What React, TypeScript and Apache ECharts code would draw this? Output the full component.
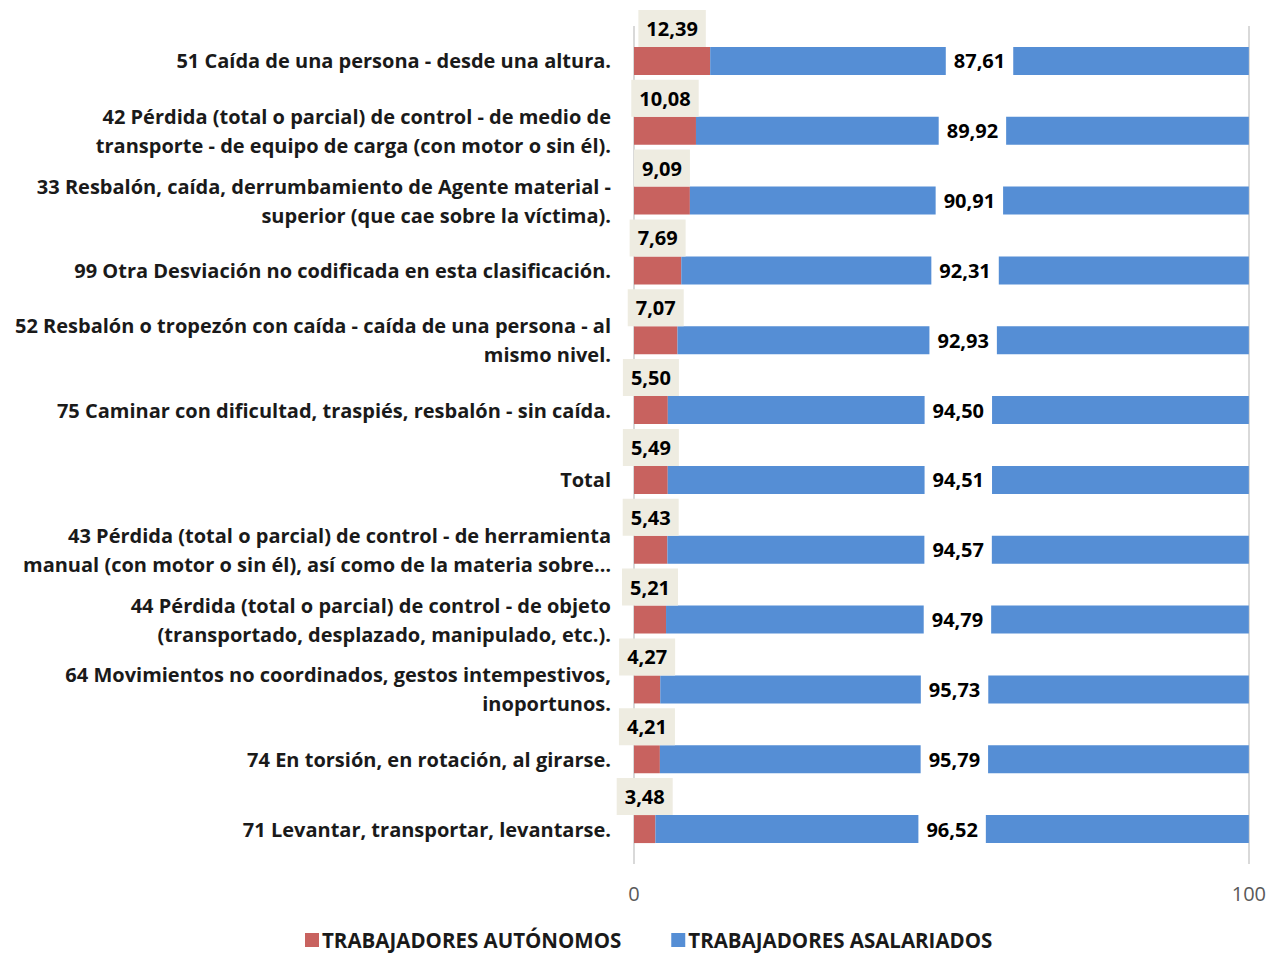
import React, { useEffect, useRef } from "react";
import * as echarts from "echarts";

const categories: string[] = [
  "51 Caída de una persona - desde una altura.",
  "42 Pérdida (total o parcial) de control - de medio de\ntransporte - de equipo de carga (con motor o sin él).",
  "33 Resbalón, caída, derrumbamiento de Agente material -\nsuperior (que cae sobre la víctima).",
  "99 Otra Desviación no codificada en esta clasificación.",
  "52 Resbalón o tropezón con caída - caída de una persona - al\nmismo nivel.",
  "75 Caminar con dificultad, traspiés, resbalón - sin caída.",
  "Total",
  "43 Pérdida (total o parcial) de control - de herramienta\nmanual (con motor o sin él), así como de la materia sobre…",
  "44 Pérdida (total o parcial) de control - de objeto\n(transportado, desplazado, manipulado, etc.).",
  "64 Movimientos no coordinados, gestos intempestivos,\ninoportunos.",
  "74 En torsión, en rotación, al girarse.",
  "71 Levantar, transportar, levantarse.",
];

const autonomos: number[] = [12.39, 10.08, 9.09, 7.69, 7.07, 5.5, 5.49, 5.43, 5.21, 4.27, 4.21, 3.48];
const asalariados: number[] = [87.61, 89.92, 90.91, 92.31, 92.93, 94.5, 94.51, 94.57, 94.79, 95.73, 95.79, 96.52];

const seriesNames = ["TRABAJADORES AUTÓNOMOS", "TRABAJADORES ASALARIADOS"];
const xTicks = [0, 100];

const FONT = "'Open Sans', sans-serif";
const fmt = (v: number) => v.toFixed(2).replace(".", ",");

export default function App() {
  const ref = useRef<HTMLDivElement>(null);
  useEffect(() => {
    document.body.style.margin = "0";
    if (!ref.current) return;
    const chart = echarts.init(ref.current, undefined, { renderer: "svg" });
    chart.setOption({
      animation: false,
      textStyle: { fontFamily: FONT },
      grid: { left: 634, right: 19, top: 26, bottom: 92, containLabel: false },
      legend: {
        top: 922,
        left: 300,
        itemWidth: 14,
        itemHeight: 14,
        itemGap: 50,
        icon: "rect",
        textStyle: { fontFamily: FONT, fontWeight: "bold", fontSize: 20.5, lineHeight: 26, color: "#1a1a1a", padding: [0, 0, 0, -2] },
        data: seriesNames,
      },
      xAxis: {
        type: "value",
        min: xTicks[0],
        max: xTicks[1],
        interval: 100,
        axisLine: { show: false },
        axisTick: { show: false },
        splitLine: { show: true, lineStyle: { color: "#d9d9d9", width: 2 } },
        axisLabel: { color: "#595959", fontSize: 20, fontFamily: FONT, margin: 19 },
      },
      yAxis: {
        type: "category",
        inverse: true,
        data: categories,
        axisLine: { show: false },
        axisTick: { show: false },
        axisLabel: {
          color: "#1a1a1a",
          fontSize: 20,
          fontWeight: "bold",
          fontFamily: FONT,
          margin: 23,
          lineHeight: 29,
          align: "right",
        },
      },
      series: [
        {
          name: seriesNames[0],
          type: "bar",
          stack: "total",
          barWidth: 28,
          itemStyle: { color: "#C8625F" },
          data: autonomos,
          label: {
            show: true,
            position: "top",
            distance: 0,
            formatter: (p: any) => fmt(p.value),
            color: "#000",
            fontSize: 20,
            fontWeight: "bold",
            fontFamily: FONT,
            lineHeight: 23,
            backgroundColor: "#EEECE1",
            padding: [7, 8, 7, 8],
          },
        },
        {
          name: seriesNames[1],
          type: "bar",
          stack: "total",
          barWidth: 28,
          itemStyle: { color: "#558ED5" },
          data: asalariados,
          label: {
            show: true,
            position: "inside",
            formatter: (p: any) => fmt(p.value),
            color: "#000",
            fontSize: 20,
            fontWeight: "bold",
            fontFamily: FONT,
            backgroundColor: "#ffffff",
            padding: [6, 8],
          },
        },
      ],
    });
    return () => chart.dispose();
  }, []);
  return <div ref={ref} style={{ width: 1269, height: 956 }} />;
}
